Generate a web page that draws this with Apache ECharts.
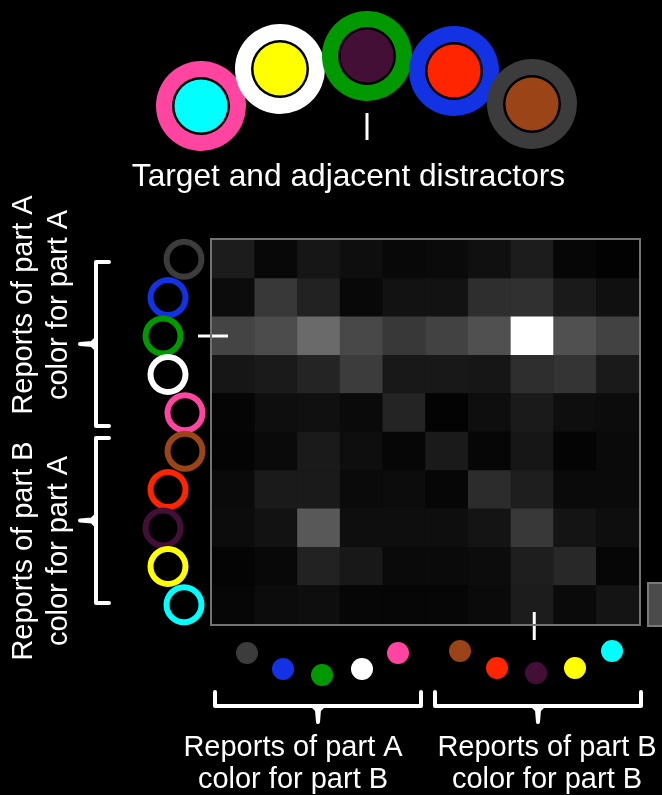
<!DOCTYPE html>
<html><head><meta charset="utf-8">
<script src="https://cdn.jsdelivr.net/npm/echarts@6/dist/echarts.min.js"></script>
<style>html,body{margin:0;padding:0;background:#000;}#c{width:662px;height:795px;}</style>
</head><body><div id="c"></div>
<script>
// ---- data ----
const colorNames = ['darkgray','blue','green','white','pink','brown','red','purple','yellow','cyan'];
const colorHex = ['#3c3c3c','#1232e4','#009a00','#ffffff','#ff459f','#9b4417','#ff2500','#430f37','#ffff00','#00ffff'];
// report frequencies (gray level 0-255), one array per row (part A report colour)
const rowDarkGray = [28, 8, 22, 14, 8, 10, 16, 28, 6, 2];
const rowBlue     = [12, 56, 34, 8, 18, 18, 46, 48, 26, 16];
const rowGreen    = [68, 76, 106, 72, 56, 66, 80, 255, 80, 66];
const rowWhite    = [22, 26, 36, 60, 24, 24, 22, 46, 52, 26];
const rowPink     = [5, 14, 16, 10, 36, 3, 14, 26, 14, 12];
const rowBrown    = [4, 10, 26, 14, 6, 26, 6, 22, 4, 10];
const rowRed      = [10, 26, 26, 10, 12, 6, 44, 30, 10, 10];
const rowPurple   = [12, 18, 88, 14, 14, 14, 20, 56, 20, 14];
const rowYellow   = [4, 8, 34, 24, 10, 10, 12, 30, 40, 6];
const rowCyan     = [6, 12, 14, 6, 6, 6, 10, 28, 10, 20];
const rows = [rowDarkGray,rowBlue,rowGreen,rowWhite,rowPink,rowBrown,rowRed,rowPurple,rowYellow,rowCyan];
// target stimulus: ring (part A) colour index and inner (part B) colour index
const targetRing = [4, 3, 2, 1, 0];
const targetInner = [9, 8, 7, 6, 5];
const targetCell = [7, 2];
const titleText = 'Target and adjacent distractors';
const leftLabelTop = 'Reports of part A\ncolor for part A';
const leftLabelBottom = 'Reports of part B\ncolor for part A';
const bottomLabelLeft = 'Reports of part A\ncolor for part B';
const bottomLabelRight = 'Reports of part B\ncolor for part B';

const heatData = [];
rows.forEach((r, ri) => r.forEach((v, ci) => heatData.push([ci, ri, v])));

const chart = echarts.init(document.getElementById('c'), null, {renderer: 'canvas'});
const FONT = 'Liberation Sans, Arial, Helvetica, sans-serif';
chart.setOption({
  backgroundColor: '#000000',
  animation: false,
  grid: {left: 212, top: 240, width: 427, height: 384, show: false},
  xAxis: {type: 'category', data: colorNames, show: false},
  yAxis: {type: 'category', data: colorNames, inverse: true, show: false},
  visualMap: {type: 'continuous', show: false, min: 0, max: 255, dimension: 2,
    inRange: {color: ['#000000', '#ffffff']}},
  series: [{type: 'heatmap', data: heatData, itemStyle: {borderWidth: 0},
    emphasis: {disabled: true}, progressive: 0}]
});

const g = [];
// top target stimulus circles
const topPos = [[201,106],[280,69],[367,56],[454,71],[532,104]];
const drawOrder = [4, 0, 1, 2, 3];
drawOrder.forEach(i => {
  const [x, y] = topPos[i];
  g.push({type: 'circle', shape: {cx: x, cy: y, r: 45}, style: {fill: colorHex[targetRing[i]]}, z: 10 + i});
  g.push({type: 'circle', shape: {cx: x, cy: y, r: 29}, style: {fill: '#000'}, z: 10 + i});
  g.push({type: 'circle', shape: {cx: x, cy: y, r: 26.5}, style: {fill: colorHex[targetInner[i]]}, z: 10 + i});
});
g.push({type: 'line', shape: {x1: 367, y1: 113, x2: 367, y2: 140}, style: {stroke: '#fff', lineWidth: 3}});
g.push({type: 'text', x: 348.5, y: 177, style: {text: titleText, fill: '#fff', font: '31.7px ' + FONT,
  textAlign: 'center', textVerticalAlign: 'middle'}});

// left ring markers (rows)
const leftX = [184,168,163,168,185,185,168,163,168,184];
colorNames.forEach((n, i) => {
  const p = chart.convertToPixel({gridIndex: 0}, [0, i]);
  g.push({type: 'ring', shape: {cx: leftX[i], cy: p[1], r: 20.5, r0: 14.5}, style: {fill: colorHex[i]}, z: 5});
});
// bottom dot markers (columns)
const dotX = [247,283,322,362,398,460,497,536,575,612];
const dotY = [653,669,675,669,653,651,668,673,668,651];
colorNames.forEach((n, i) => {
  g.push({type: 'circle', shape: {cx: dotX[i], cy: dotY[i], r: 11}, style: {fill: colorHex[i]}, z: 5});
});
// target ticks
const tp = chart.convertToPixel({gridIndex: 0}, targetCell);
g.push({type: 'line', shape: {x1: 198, y1: tp[1], x2: 228, y2: tp[1]}, style: {stroke: '#fff', lineWidth: 3}, z: 20});
g.push({type: 'line', shape: {x1: tp[0] + 2, y1: 612, x2: tp[0] + 2, y2: 640}, style: {stroke: '#fff', lineWidth: 3}, z: 20});

// plot border
g.push({type: 'rect', shape: {x: 211, y: 239, width: 429, height: 386}, style: {fill: 'none', stroke: '#737373', lineWidth: 2}, z: 20});
// partial colour bar at right edge
g.push({type: 'rect', shape: {x: 648, y: 583, width: 20, height: 43}, style: {fill: '#4b4b4b', stroke: '#7a7a7a', lineWidth: 2}, z: 20});

// brackets
const bs = {stroke: '#fff', lineWidth: 4, fill: 'none', lineJoin: 'round', lineCap: 'round'};
function vBracket(y1, y2) {
  const m = (y1 + y2) / 2;
  g.push({type: 'polyline', shape: {points: [[109,y1],[96,y1],[96,y2],[109,y2]]}, style: bs});
  g.push({type: 'polyline', shape: {points: [[96,m-5],[92,m-1],[80,m],[92,m+1],[96,m+5]]}, style: bs});
}
vBracket(262, 426);
vBracket(438, 603);
function hBracket(x1, x2) {
  const m = (x1 + x2) / 2;
  g.push({type: 'polyline', shape: {points: [[x1,692],[x1,706],[x2,706],[x2,692]]}, style: bs});
  g.push({type: 'polyline', shape: {points: [[m-5,706],[m-1,710],[m,722],[m+1,710],[m+5,706]]}, style: bs});
}
hBracket(215, 421);
hBracket(435, 641);

// labels
function label(x, y, text, rot, size, lh) {
  g.push({type: 'text', x: x, y: y, rotation: rot, style: {text: text, fill: '#fff', font: size + 'px ' + FONT,
    lineHeight: lh, textAlign: 'center', textVerticalAlign: 'middle'}});
}
label(41, 305, leftLabelTop, Math.PI / 2, 29, 35);
label(41, 551, leftLabelBottom, Math.PI / 2, 29, 35);
label(293, 764, bottomLabelLeft, 0, 29, 32);
label(547, 764, bottomLabelRight, 0, 29, 32);

chart.setOption({graphic: {elements: g}});
</script>
</body></html>
